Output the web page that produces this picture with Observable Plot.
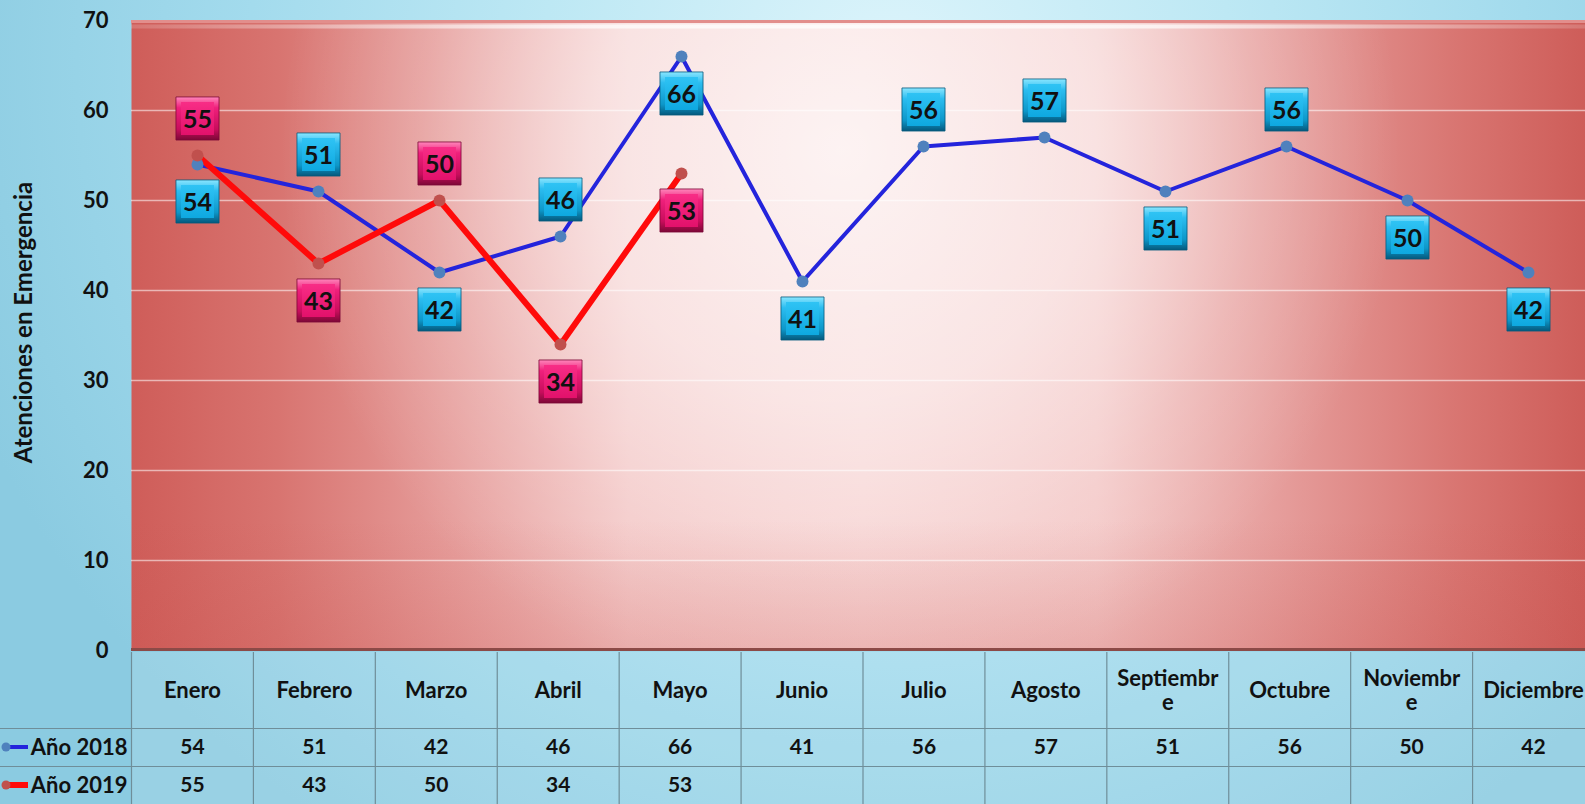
<!DOCTYPE html>
<html><head><meta charset="utf-8">
<script src="https://cdn.jsdelivr.net/npm/d3@7"></script>
<script src="https://cdn.jsdelivr.net/npm/@observablehq/plot@0.6"></script>
<style>
html,body{margin:0;padding:0;overflow:hidden;background:#8ccde2;}
#wrap{position:relative;width:1585px;height:804px;overflow:hidden;
background: radial-gradient(ellipse 62% 115% at 56% 8%, #dcf4fb 0%, #bde8f4 35%, #a3dbed 65%, #8bcbe1 100%);}
#wrap svg{display:block;}
</style></head>
<body>
<svg width="0" height="0" style="position:absolute">
<defs>
<linearGradient id="plotBg" gradientUnits="userSpaceOnUse" x1="131" y1="0" x2="1594" y2="0">
<stop offset="0" stop-color="#cf5d59"/>
<stop offset="0.1" stop-color="#d87470"/>
<stop offset="0.22" stop-color="#e69d9b"/>
<stop offset="0.34" stop-color="#f3c6c5"/>
<stop offset="0.5" stop-color="#f6cfce"/>
<stop offset="0.66" stop-color="#f3c6c5"/>
<stop offset="0.8" stop-color="#e49896"/>
<stop offset="0.91" stop-color="#d87470"/>
<stop offset="1" stop-color="#cd5b57"/>
</linearGradient>
<radialGradient id="glow" gradientUnits="userSpaceOnUse" cx="840" cy="150" r="560">
<stop offset="0" stop-color="#ffffff" stop-opacity="0.75"/>
<stop offset="0.45" stop-color="#ffffff" stop-opacity="0.5"/>
<stop offset="0.75" stop-color="#ffffff" stop-opacity="0.18"/>
<stop offset="1" stop-color="#ffffff" stop-opacity="0"/>
</radialGradient>
<linearGradient id="bottomShade" gradientUnits="userSpaceOnUse" x1="0" y1="520" x2="0" y2="650">
<stop offset="0" stop-color="#c8504c" stop-opacity="0"/>
<stop offset="1" stop-color="#c8504c" stop-opacity="0.22"/>
</linearGradient>
<linearGradient id="topHi" gradientUnits="userSpaceOnUse" x1="131" y1="0" x2="1594" y2="0">
<stop offset="0" stop-color="#ffffff" stop-opacity="0.15"/>
<stop offset="0.3" stop-color="#ffffff" stop-opacity="0.7"/>
<stop offset="0.7" stop-color="#ffffff" stop-opacity="0.7"/>
<stop offset="1" stop-color="#ffffff" stop-opacity="0.15"/>
</linearGradient>
<linearGradient id="blueOuter" x1="0" y1="0" x2="0" y2="1">
<stop offset="0" stop-color="#8ae6ff"/>
<stop offset="0.25" stop-color="#2cbdf0"/>
<stop offset="0.75" stop-color="#0d97c9"/>
<stop offset="1" stop-color="#05587c"/>
</linearGradient>
<linearGradient id="blueInner" x1="0" y1="0" x2="0" y2="1">
<stop offset="0" stop-color="#2fc3f4"/>
<stop offset="1" stop-color="#0ea8e0"/>
</linearGradient>
<linearGradient id="pinkOuter" x1="0" y1="0" x2="0" y2="1">
<stop offset="0" stop-color="#ff86bb"/>
<stop offset="0.25" stop-color="#f0207c"/>
<stop offset="0.75" stop-color="#c80d5c"/>
<stop offset="1" stop-color="#7c0836"/>
</linearGradient>
<linearGradient id="pinkInner" x1="0" y1="0" x2="0" y2="1">
<stop offset="0" stop-color="#f82d86"/>
<stop offset="1" stop-color="#e2116b"/>
</linearGradient>
</defs>
</svg>
<div id="wrap"></div>
<script>
// ---------- data ----------
const months = ["Enero","Febrero","Marzo","Abril","Mayo","Junio","Julio","Agosto","Septiembre","Octubre","Noviembre","Diciembre"];
const monthLabels = ["Enero","Febrero","Marzo","Abril","Mayo","Junio","Julio","Agosto","Septiembr\ne","Octubre","Noviembr\ne","Diciembre"];
const values2018 = [54,51,42,46,66,41,56,57,51,56,50,42];
const values2019 = [55,43,50,34,53,null,null,null,null,null,null,null];
const seriesNames = ["Año 2018","Año 2019"];
const yTicks = [0,10,20,30,40,50,60,70];
const yTitle = "Atenciones en Emergencia";

// ---------- style (label placement) ----------
const place2018 = ["below","above","below","above","below","below","above","above","below","above","below","below"];
const place2019 = ["above","below","above","below","below"];

const d2018 = months.map((m,i)=>({month:m, value:values2018[i], place:place2018[i]}));
const d2019 = months.map((m,i)=>({month:m, value:values2019[i], place:place2019[i]})).filter(d=>d.value!=null);

const FONT = "Lato, 'Open Sans', sans-serif";
const W = 1594;
const ML = 131;
const colW = (W-ML)/12;

function boxMarks(data, outer, inner, strokeC){
  const out = [];
  for (const [pl, dy] of [["above",-37],["below",37]]) {
    const sub = data.filter(d=>d.place===pl);
    out.push(Plot.dot(sub,{x:"month",y:"value",symbol:"square",r:24.3,fill:outer,stroke:strokeC,strokeWidth:0.8,dy}));
    out.push(Plot.dot(sub,{x:"month",y:"value",symbol:"square",r:18.6,fill:inner,dy}));
    out.push(Plot.text(sub,{x:"month",y:"value",text:d=>String(d.value),fontSize:25,fontWeight:"bold",fill:"#111",dy:dy+1}));
  }
  return out;
}

const chart = Plot.plot({
  width: W, height: 652,
  marginLeft: ML, marginRight: 0, marginTop: 20, marginBottom: 2,
  style: {background:"transparent", overflow:"visible", maxWidth:"none", fontFamily: FONT, color:"#000"},
  x: {type:"point", domain: months, padding: 0.5, axis: null},
  y: {domain:[0,70], axis: null},
  marks: [
    Plot.frame({fill:"url(#plotBg)"}),
    Plot.frame({fill:"url(#glow)"}),
    Plot.frame({fill:"url(#bottomShade)"}),
    Plot.ruleY(yTicks.filter(t=>t>0 && t<70), {stroke:"#ffffff", strokeOpacity:0.55, strokeWidth:1.3}),
    Plot.ruleY([70], {stroke:"#e28e8c", strokeWidth:3, dy:1}),
    Plot.ruleY([70], {stroke:"url(#topHi)", strokeWidth:4, dy:6}),
    Plot.ruleY([0], {stroke:"#8c4a47", strokeWidth:3, dy:-1}),
    Plot.axisY({ticks: yTicks, tickSize:0, tickPadding:23, fontSize:22, fontWeight:"bold", fill:"#111", label:null}),
    Plot.text([yTitle], {text:d=>d, frameAnchor:"left", textAnchor:"middle", rotate:-90, dx:-107, dy:-13, fontSize:24, fontWeight:"bold", fill:"#111"}),
    Plot.line(d2018, {x:"month", y:"value", stroke:"#2424dc", strokeWidth:4}),
    Plot.line(d2019, {x:"month", y:"value", stroke:"#ff0a0a", strokeWidth:6}),
    Plot.dot(d2018, {x:"month", y:"value", r:6, fill:"#4f81bd"}),
    Plot.dot(d2019, {x:"month", y:"value", r:6, fill:"#c0504d"}),
    ...boxMarks(d2018, "url(#blueOuter)", "url(#blueInner)", "#055a7e"),
    ...boxMarks(d2019, "url(#pinkOuter)", "url(#pinkInner)", "#7c0836")
  ]
});

// ---------- data table ----------
const cols = months.map((m,i)=>({i, label: monthLabels[i], v18: values2018[i], v19: values2019[i]}));
const seriesKeys = [
  {name: seriesNames[0], row: 2.5, stroke:"#2424dc", width:4, dot:"#4f81bd"},
  {name: seriesNames[1], row: 3.5, stroke:"#ff0a0a", width:6, dot:"#c0504d"}
];
function legendKeys(index, scales) {
  const g = d3.create("svg:g");
  for (const s of seriesKeys) {
    const y = scales.y(s.row);
    g.append("line").attr("x1",6).attr("x2",28).attr("y1",y).attr("y2",y).attr("stroke",s.stroke).attr("stroke-width",s.width);
    g.append("circle").attr("cx",6).attr("cy",y).attr("r",4.5).attr("fill",s.dot);
  }
  return g.node();
}
const x0 = -ML/colW;
const table = Plot.plot({
  width: W, height: 152,
  margin: 0,
  style: {background:"transparent", overflow:"visible", maxWidth:"none", fontFamily: FONT, color:"#000"},
  x: {type:"linear", domain:[x0, 12], range:[0, W], axis:null},
  y: {type:"linear", domain:[0, 4], range:[0, 152], axis:null},
  marks: [
    Plot.rect(cols, {x1:d=>d.i, x2:d=>d.i+1, y1:0, y2:4, fill:"#ffffff", fillOpacity:0.12}),
    Plot.ruleX(d3.range(0,13), {y1:0, y2:4, stroke:"#6f8e99", strokeWidth:1.2}),
    Plot.ruleY([2,3], {x1:x0, x2:12, stroke:"#6f8e99", strokeWidth:1.2}),
    Plot.text(cols, {x:d=>d.i+0.5, y:1, text:"label", fontSize:22, fontWeight:"bold", fill:"#111", lineHeight:1.1}),
    Plot.text(cols, {x:d=>d.i+0.5, y:2.5, text:d=>d.v18==null?"":String(d.v18), fontSize:21, fontWeight:"bold", fill:"#111"}),
    Plot.text(cols, {x:d=>d.i+0.5, y:3.5, text:d=>d.v19==null?"":String(d.v19), fontSize:21, fontWeight:"bold", fill:"#111"}),
    Plot.text(seriesKeys, {x:0, y:"row", text:"name", textAnchor:"end", dx:-4, fontSize:22, fontWeight:"bold", fill:"#111"}),
    legendKeys
  ]
});

const wrap = document.getElementById("wrap");
wrap.appendChild(chart);
wrap.appendChild(table);
</script>
</body></html>
